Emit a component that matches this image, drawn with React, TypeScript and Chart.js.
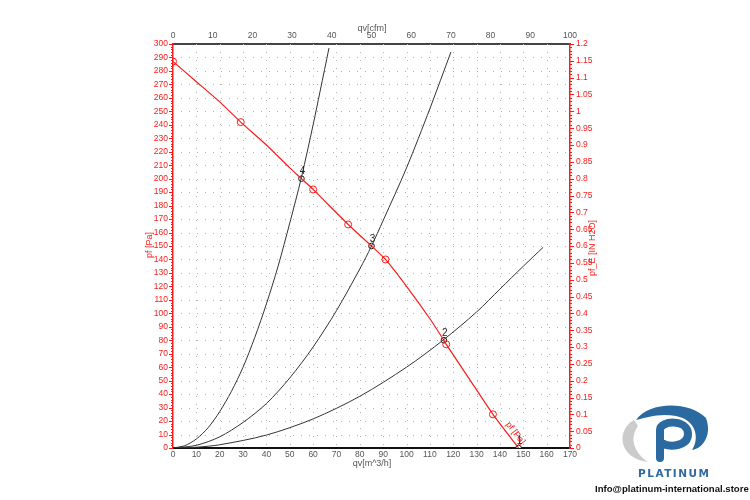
import React, { useEffect, useRef } from "react";
import { Chart, registerables } from "chart.js";

Chart.register(...registerables);

// ---------- data ----------
const pressureTicksPa = [0, 10, 20, 30, 40, 50, 60, 70, 80, 90, 100, 110, 120, 130, 140, 150, 160, 170, 180, 190, 200, 210, 220, 230, 240, 250, 260, 270, 280, 290, 300];
const pressureTicksInH2O = [0, 0.05, 0.1, 0.15, 0.2, 0.25, 0.3, 0.35, 0.4, 0.45, 0.5, 0.55, 0.6, 0.65, 0.7, 0.75, 0.8, 0.85, 0.9, 0.95, 1, 1.05, 1.1, 1.15, 1.2];
const flowTicksM3h = [0, 10, 20, 30, 40, 50, 60, 70, 80, 90, 100, 110, 120, 130, 140, 150, 160, 170];
const flowTicksCfm = [0, 10, 20, 30, 40, 50, 60, 70, 80, 90, 100];

// fan curve pf [Pa] vs qv [m^3/h]
const fanQ = [0, 10, 20, 29, 40, 50, 55, 60, 75, 85, 91, 100, 110, 116, 117, 127, 137, 148];
const fanP = [287, 272, 257, 242, 225, 208, 200, 192, 166, 150, 140, 120, 96, 80, 77, 51, 25, 0];

// red circle markers on the fan curve
const markerQ = [0, 29, 60, 75, 91, 117, 137];
const markerP = [287, 242, 192, 166, 140, 77, 25];

// system curves
const sysAQ = [0, 5, 10, 15, 20, 25, 30, 35, 40, 45, 50, 55, 60, 63, 66.8];
const sysAP = [0, 1.7, 6.7, 15, 27, 42, 60, 82, 107, 135, 167, 201, 240, 265, 297];
const sysBQ = [0, 10, 20, 30, 40, 50, 60, 70, 80, 85, 90, 100, 110, 119];
const sysBP = [0, 2, 8.3, 19, 33, 52, 75, 102, 133, 150, 169, 208, 252, 294];
const sysCQ = [0, 10, 20, 40, 60, 80, 100, 115.6, 130, 140, 150, 158.5];
const sysCP = [0, 0.6, 2.4, 9.6, 21.6, 38.4, 60, 80, 101, 118, 135, 149];

// operating points
const opQ = [148, 116, 85, 55];
const opP = [0, 80, 150, 200];
const opLabels = ["1", "2", "3", "4"];

const RED = "#ff1a1a";
const TICK_GREY = "#555";
const FONT = "'Liberation Sans', Arial, sans-serif";

const pts = (xs: number[], ys: number[]) => xs.map((x, i) => ({ x, y: ys[i] }));

const overlayPlugin = {
  id: "overlay",
  beforeDatasetsDraw(chart: any) {
    const { ctx, chartArea: a, scales } = chart;
    ctx.save();
    ctx.strokeStyle = "#b4b4b4";
    ctx.lineWidth = 1;
    ctx.setLineDash([1, 7]);
    for (const v of pressureTicksPa) {
      if (v === 0 || v === 300) continue;
      const y = Math.round(scales.y.getPixelForValue(v)) + 0.5;
      ctx.beginPath();
      ctx.moveTo(a.left, y);
      ctx.lineTo(a.right, y);
      ctx.stroke();
    }
    for (const v of flowTicksM3h) {
      if (v === 0 || v === 170) continue;
      const x = Math.round(scales.x.getPixelForValue(v)) + 0.5;
      ctx.beginPath();
      ctx.moveTo(x, a.top);
      ctx.lineTo(x, a.bottom);
      ctx.stroke();
    }
    ctx.restore();
  },
  afterDraw(chart: any) {
    const { ctx, chartArea: a, scales } = chart;
    ctx.save();
    // axis ticks (major + minor), red
    ctx.strokeStyle = RED;
    ctx.lineWidth = 1;
    for (let v = 0; v <= 300; v += 2) {
      const y = Math.round(scales.y.getPixelForValue(v)) + 0.5;
      const len = v % 10 === 0 ? 4 : 2;
      ctx.beginPath();
      ctx.moveTo(a.left - len, y);
      ctx.lineTo(a.left, y);
      ctx.stroke();
    }
    for (let i = 0; i <= 120; i++) {
      const v = i / 100;
      const y = Math.round(scales.y2.getPixelForValue(v)) + 0.5;
      const len = i % 5 === 0 ? 4 : 2;
      ctx.beginPath();
      ctx.moveTo(a.right, y);
      ctx.lineTo(a.right + len, y);
      ctx.stroke();
    }

    // axis titles
    ctx.font = `9px ${FONT}`;
    ctx.textAlign = "center";
    ctx.textBaseline = "middle";
    ctx.fillStyle = RED;
    ctx.save();
    ctx.translate(150, 245);
    ctx.rotate(-Math.PI / 2);
    ctx.fillText("pf [Pa]", 0, 0);
    ctx.restore();
    ctx.save();
    ctx.translate(593, 248);
    ctx.rotate(-Math.PI / 2);
    ctx.fillText("pf_E [IN H2O]", 0, 0);
    ctx.restore();
    ctx.fillStyle = TICK_GREY;
    ctx.fillText("qv[m^3/h]", 372, 464);
    ctx.fillText("qv[cfm]", 372, 29);

    // label along the fan curve
    const x1 = scales.x.getPixelForValue(137);
    const y1 = scales.y.getPixelForValue(25);
    const x2 = scales.x.getPixelForValue(148);
    const y2 = scales.y.getPixelForValue(0);
    const ang = Math.atan2(y2 - y1, x2 - x1);
    ctx.save();
    ctx.translate(scales.x.getPixelForValue(144) + 6, scales.y.getPixelForValue(8) - 4);
    ctx.rotate(ang);
    ctx.fillStyle = RED;
    ctx.font = `9px ${FONT}`;
    ctx.fillText("pf [Pa]", 0, 0);
    ctx.restore();

    // operating point labels
    ctx.fillStyle = "#222";
    ctx.font = `10px ${FONT}`;
    opQ.forEach((q, i) => {
      const px = scales.x.getPixelForValue(q);
      const py = scales.y.getPixelForValue(opP[i]);
      ctx.fillText(opLabels[i], px + 1, py - 7);
    });
    ctx.restore();
  },
};

function Logo() {
  return (
    <div style={{ position: "absolute", left: 590, top: 396, width: 160, height: 104 }}>
      <svg width="110" height="70" viewBox="0 0 110 70" style={{ position: "absolute", left: 18, top: 2 }}>
        <path d="M26 22 C8 32, 10 60, 40 64 C28 56, 20 42, 30 28 Z" fill="#cbcbcb" />
        <path d="M28 22 C40 4, 80 2, 98 20 C104 36, 96 50, 84 52 C92 40, 88 22, 68 18 C52 15, 40 19, 28 22 Z" fill="#2a6aa0" />
        <path d="M52 60 L52 32 C52 22, 80 21, 80 36 C80 49, 60 49, 56 46" fill="none" stroke="#2a6aa0" strokeWidth="8" strokeLinecap="round" />
      </svg>
      <div
        style={{
          position: "absolute",
          left: 48,
          top: 71,
          width: 70,
          textAlign: "center",
          font: `bold 10.5px 'DejaVu Sans', sans-serif`,
          letterSpacing: "1.5px",
          color: "#2f6aa3",
        }}
      >
        PLATINUM
      </div>
      <div
        style={{
          position: "absolute",
          left: 5,
          top: 87,
          whiteSpace: "nowrap",
          font: `bold 9.6px 'Liberation Sans', Arial, sans-serif`,
          color: "#111",
        }}
      >
        Info@platinum-international.store
      </div>
    </div>
  );
}

export default function App() {
  const ref = useRef<HTMLCanvasElement | null>(null);
  useEffect(() => {
    if (!ref.current) return;
    const tickFont = { size: 8.5, family: FONT };
    const chart = new Chart(ref.current, {
      type: "scatter",
      data: {
        datasets: [
          {
            label: "sysA",
            data: pts(sysAQ, sysAP),
            showLine: true,
            borderColor: "#333",
            borderWidth: 1,
            pointRadius: 0,
            tension: 0.3,
            xAxisID: "x",
            yAxisID: "y",
          },
          {
            label: "sysB",
            data: pts(sysBQ, sysBP),
            showLine: true,
            borderColor: "#333",
            borderWidth: 1,
            pointRadius: 0,
            tension: 0.3,
            xAxisID: "x",
            yAxisID: "y",
          },
          {
            label: "sysC",
            data: pts(sysCQ, sysCP),
            showLine: true,
            borderColor: "#333",
            borderWidth: 1,
            pointRadius: 0,
            tension: 0.3,
            xAxisID: "x",
            yAxisID: "y",
          },
          {
            label: "fan",
            data: pts(fanQ, fanP),
            showLine: true,
            borderColor: RED,
            borderWidth: 1.2,
            pointRadius: 0,
            tension: 0.2,
            xAxisID: "x",
            yAxisID: "y",
          },
          {
            label: "markers",
            data: pts(markerQ, markerP),
            showLine: false,
            pointStyle: "circle",
            pointRadius: 3.5,
            pointBorderColor: RED,
            pointBackgroundColor: "rgba(0,0,0,0)",
            pointBorderWidth: 1,
            xAxisID: "x",
            yAxisID: "y",
          },
          {
            label: "op",
            data: pts(opQ, opP),
            showLine: false,
            pointStyle: "circle",
            pointRadius: 2.8,
            pointBorderColor: "#111",
            pointBackgroundColor: "#fff",
            pointBorderWidth: 1,
            xAxisID: "x",
            yAxisID: "y",
          },
        ],
      },
      options: {
        responsive: false,
        animation: false,
        layout: { padding: 0 },
        plugins: { legend: { display: false }, tooltip: { enabled: false } },
        scales: {
          x: {
            type: "linear",
            position: "bottom",
            min: 0,
            max: 170,
            afterBuildTicks: (s: any) => {
              s.ticks = flowTicksM3h.map((v) => ({ value: v }));
            },
            afterFit: (s: any) => {
              s.height = 52;
            },
            ticks: { color: TICK_GREY, font: tickFont, padding: 2, maxRotation: 0, autoSkip: false },
            grid: { display: false, drawTicks: false },
            border: { display: true, color: "#111", width: 2 },
          },
          x2: {
            type: "linear",
            position: "top",
            min: 0,
            max: 100,
            afterBuildTicks: (s: any) => {
              s.ticks = flowTicksCfm.map((v) => ({ value: v }));
            },
            afterFit: (s: any) => {
              s.height = 44;
            },
            ticks: { color: TICK_GREY, font: tickFont, padding: 3, maxRotation: 0, autoSkip: false },
            grid: { display: false, drawTicks: false },
            border: { display: true, color: "#444", width: 2 },
          },
          y: {
            type: "linear",
            position: "left",
            min: 0,
            max: 300,
            afterBuildTicks: (s: any) => {
              s.ticks = pressureTicksPa.map((v) => ({ value: v }));
            },
            afterFit: (s: any) => {
              s.width = 173;
            },
            ticks: { color: RED, font: tickFont, padding: 5, autoSkip: false },
            grid: { display: false, drawTicks: false },
            border: { display: true, color: RED, width: 1.5 },
          },
          y2: {
            type: "linear",
            position: "right",
            min: 0,
            max: 1.2,
            afterBuildTicks: (s: any) => {
              s.ticks = pressureTicksInH2O.map((v) => ({ value: v }));
            },
            afterFit: (s: any) => {
              s.width = 180;
            },
            ticks: {
              color: RED,
              font: tickFont,
              padding: 6,
              autoSkip: false,
              callback: (v: any) => String(v),
            },
            grid: { display: false, drawTicks: false },
            border: { display: true, color: RED, width: 1.5 },
          },
        },
      },
      plugins: [overlayPlugin],
    } as any);
    return () => chart.destroy();
  }, []);

  return (
    <div style={{ position: "absolute", left: 0, top: 0, width: 750, height: 500, background: "#fff" }}>
      <canvas ref={ref} width={750} height={500} style={{ position: "absolute", left: 0, top: 0 }} />
      <Logo />
    </div>
  );
}
